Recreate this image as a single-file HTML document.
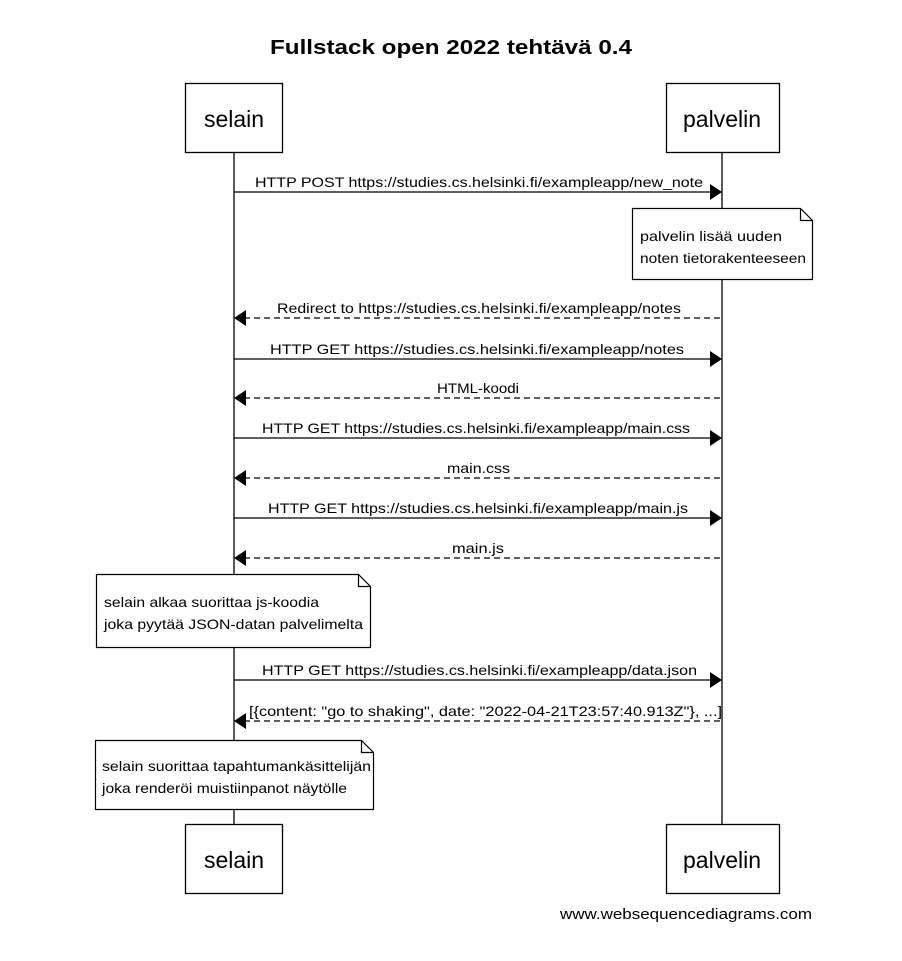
<!DOCTYPE html>
<html><head><meta charset="utf-8"><style>
html,body{margin:0;padding:0;background:#fff;}
svg{display:block;font-family:"Liberation Sans",sans-serif;}
</style></head><body>
<svg width="902" height="961" viewBox="0 0 902 961" xmlns="http://www.w3.org/2000/svg">
<text x="270" y="54" font-size="20" font-weight="bold" fill="#000" textLength="362" lengthAdjust="spacingAndGlyphs">Fullstack open 2022 tehtävä 0.4</text>
<g stroke="#000" stroke-width="1.3" fill="none">
<line x1="234" y1="152" x2="234" y2="825"/>
<line x1="722" y1="152" x2="722" y2="825"/>
</g>
<g stroke="#000" stroke-width="1.3" fill="#fff">
<rect x="185.5" y="83.5" width="97" height="69"/>
<rect x="666.5" y="83.5" width="113" height="69"/>
<rect x="185.5" y="824.5" width="97" height="69"/>
<rect x="666.5" y="824.5" width="113" height="69"/>
</g>
<g font-size="23" text-anchor="middle" fill="#000">
<text x="234" y="127">selain</text>
<text x="722" y="127">palvelin</text>
<text x="234" y="868">selain</text>
<text x="722" y="868">palvelin</text>
</g>
<g stroke="#000" stroke-width="1.3" fill="none">
<line x1="234" y1="192" x2="712" y2="192"/>
<line x1="244" y1="318" x2="722" y2="318" stroke-dasharray="6,4"/>
<line x1="234" y1="359" x2="712" y2="359"/>
<line x1="244" y1="398" x2="722" y2="398" stroke-dasharray="6,4"/>
<line x1="234" y1="438" x2="712" y2="438"/>
<line x1="244" y1="478" x2="722" y2="478" stroke-dasharray="6,4"/>
<line x1="234" y1="518" x2="712" y2="518"/>
<line x1="244" y1="558" x2="722" y2="558" stroke-dasharray="6,4"/>
<line x1="234" y1="680" x2="712" y2="680"/>
<line x1="244" y1="721" x2="722" y2="721" stroke-dasharray="6,4"/>
</g>
<g fill="#000">
<polygon points="710,184 722,192 710,200"/>
<polygon points="246,310 234,318 246,326"/>
<polygon points="710,351 722,359 710,367"/>
<polygon points="246,390 234,398 246,406"/>
<polygon points="710,430 722,438 710,446"/>
<polygon points="246,470 234,478 246,486"/>
<polygon points="710,510 722,518 710,526"/>
<polygon points="246,550 234,558 246,566"/>
<polygon points="710,672 722,680 710,688"/>
<polygon points="246,713 234,721 246,729"/>
</g>
<g font-size="14" fill="#000">
<text x="255" y="187" textLength="448" lengthAdjust="spacingAndGlyphs">HTTP POST https://studies.cs.helsinki.fi/exampleapp/new_note</text>
<text x="277" y="313" textLength="404" lengthAdjust="spacingAndGlyphs">Redirect to https://studies.cs.helsinki.fi/exampleapp/notes</text>
<text x="270" y="354" textLength="414" lengthAdjust="spacingAndGlyphs">HTTP GET https://studies.cs.helsinki.fi/exampleapp/notes</text>
<text x="437" y="393" textLength="82" lengthAdjust="spacingAndGlyphs">HTML-koodi</text>
<text x="262" y="433" textLength="428" lengthAdjust="spacingAndGlyphs">HTTP GET https://studies.cs.helsinki.fi/exampleapp/main.css</text>
<text x="447" y="473" textLength="63" lengthAdjust="spacingAndGlyphs">main.css</text>
<text x="268" y="513" textLength="420" lengthAdjust="spacingAndGlyphs">HTTP GET https://studies.cs.helsinki.fi/exampleapp/main.js</text>
<text x="452" y="553" textLength="52" lengthAdjust="spacingAndGlyphs">main.js</text>
<text x="262" y="675" textLength="435" lengthAdjust="spacingAndGlyphs">HTTP GET https://studies.cs.helsinki.fi/exampleapp/data.json</text>
<text x="249" y="716" textLength="473" lengthAdjust="spacingAndGlyphs">[{content: "go to shaking", date: "2022-04-21T23:57:40.913Z"}, ...]</text>
</g>
<g stroke="#000" stroke-width="1.2" fill="#fff">
<path d="M632.5,208.5 H800.5 L812.5,220.5 V279.5 H632.5 Z"/>
<path d="M800.5,208.5 V220.5 H812.5" fill="none"/>
<path d="M96.5,574.5 H358.5 L370.5,586.5 V647.5 H96.5 Z"/>
<path d="M358.5,574.5 V586.5 H370.5" fill="none"/>
<path d="M95.5,740.5 H361.5 L373.5,752.5 V809.5 H95.5 Z"/>
<path d="M361.5,740.5 V752.5 H373.5" fill="none"/>
</g>
<g font-size="14" fill="#000">
<text x="640" y="241" textLength="142" lengthAdjust="spacingAndGlyphs">palvelin lisää uuden</text>
<text x="640" y="263" textLength="166" lengthAdjust="spacingAndGlyphs">noten tietorakenteeseen</text>
<text x="104" y="607" textLength="215" lengthAdjust="spacingAndGlyphs">selain alkaa suorittaa js-koodia</text>
<text x="104" y="629" textLength="259" lengthAdjust="spacingAndGlyphs">joka pyytää JSON-datan palvelimelta</text>
<text x="102" y="771" textLength="269" lengthAdjust="spacingAndGlyphs">selain suorittaa tapahtumankäsittelijän</text>
<text x="102" y="793" textLength="245" lengthAdjust="spacingAndGlyphs">joka renderöi muistiinpanot näytölle</text>
</g>
<text x="560" y="919" font-size="15" fill="#000" textLength="252" lengthAdjust="spacingAndGlyphs">www.websequencediagrams.com</text>
</svg>
</body></html>
